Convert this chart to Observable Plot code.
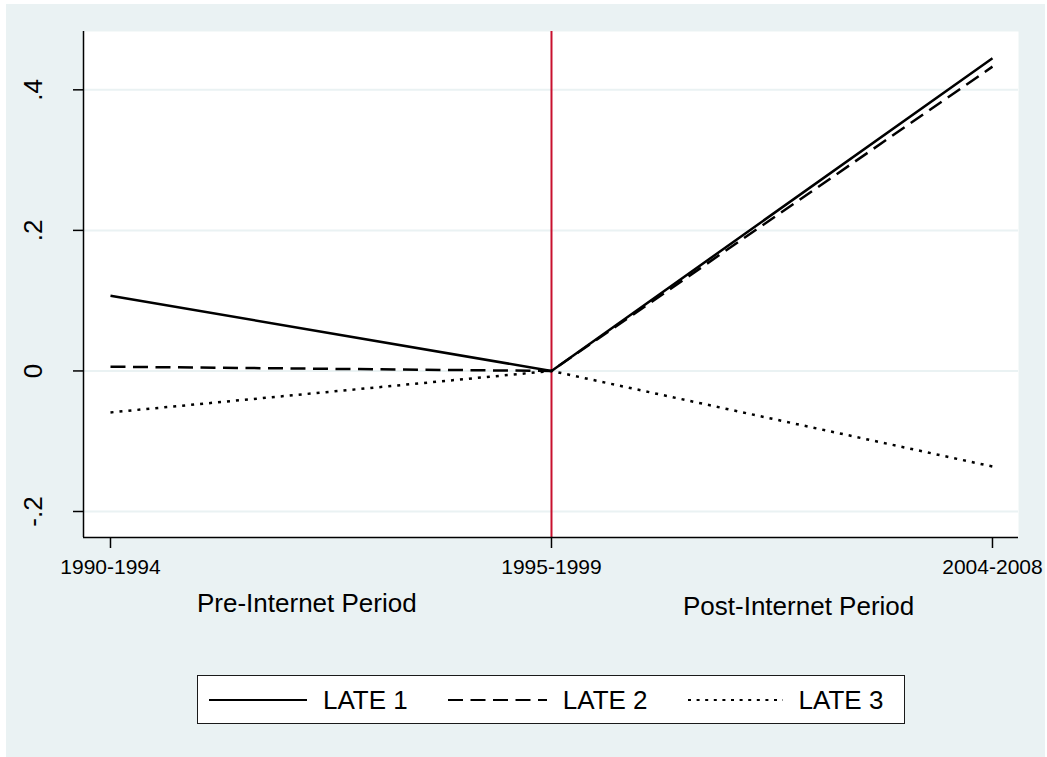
<!DOCTYPE html>
<html>
<head>
<meta charset="utf-8">
<script src="https://cdn.jsdelivr.net/npm/d3@7"></script>
<script src="https://cdn.jsdelivr.net/npm/@observablehq/plot@0.6"></script>
<style>
  html, body { margin: 0; padding: 0; background: #ffffff; overflow: hidden; }
  #page { position: relative; width: 1047px; height: 757px; overflow: hidden;
          font-family: "Liberation Sans", Arial, Helvetica, sans-serif; color: #000; }
  #bg { position: absolute; left: 6px; top: 4px; width: 1039px; height: 753px; background: #eaf2f3; }
  #chart { position: absolute; left: 0; top: 0; }
  .atitle { position: absolute; font-size: 26px; line-height: 26px; white-space: nowrap; color: #000; }
  #legend { position: absolute; left: 197px; top: 675px; width: 706px; height: 47px; box-sizing: content-box;
            background: #fff; border: 1px solid #1a1a1a; display: flex; align-items: center; }
  .item { display: flex; align-items: center; }
  .item svg { display: block; }
  .item span { font-size: 26px; line-height: 26px; margin-left: 16px; white-space: nowrap; }
</style>
</head>
<body>
<div id="page">
  <div id="bg"></div>
  <div id="chart"></div>
  <div class="atitle" id="t1" style="left:197px; top:590px;"></div>
  <div class="atitle" id="t2" style="left:683px; top:593px;"></div>
  <div id="legend"></div>
</div>
<script>
// ---- data ----
const periods = ["1990-1994", "1995-1999", "2004-2008"];
const late1 = [0.107, 0.0, 0.445];
const late2 = [0.006, 0.0, 0.433];
const late3 = [-0.059, 0.0, -0.136];
const seriesNames = ["LATE 1", "LATE 2", "LATE 3"];
const yTicks = [-0.2, 0, 0.2, 0.4];
const cutoffPeriod = "1995-1999";
const periodTitles = ["Pre-Internet Period", "Post-Internet Period"];

// ---- styles (kept apart from data) ----
const dashes = [null, "15,7.5", "3,6"];
const legendDashes = [null, "15,7.5", "3,5.6"];

const seriesValues = [late1, late2, late3];
const rows = [];
seriesNames.forEach((s, k) => {
  periods.forEach((p, i) => rows.push({series: s, idx: i, period: p, value: seriesValues[k][i]}));
});

const fmt = d => d === 0 ? "0" : String(d).replace("0.", ".");
const xDomain = [-0.0612, 2.059];
const yDomain = [-0.237, 0.483];
const cutIdx = periods.indexOf(cutoffPeriod);

const lineMarks = seriesNames.map((s, k) =>
  Plot.line(rows.filter(r => r.series === s), {
    x: "idx", y: "value", stroke: "#000", strokeWidth: 2.5,
    strokeDasharray: dashes[k] || undefined, strokeLinecap: "butt"
  })
);

const chart = Plot.plot({
  width: 1047,
  height: 590,
  marginLeft: 83,
  marginRight: 29,
  marginTop: 31,
  marginBottom: 53,
  style: {background: "transparent", fontFamily: '"Liberation Sans", Arial, Helvetica, sans-serif', color: "#000", overflow: "visible"},
  x: {domain: xDomain},
  y: {domain: yDomain},
  marks: [
    Plot.frame({fill: "#ffffff", stroke: "none"}),
    Plot.ruleY(yTicks, {stroke: "#eaf2f3", strokeWidth: 2}),
    Plot.ruleX([cutIdx], {stroke: "#c8102e", strokeWidth: 2}),
    ...lineMarks,
    Plot.ruleX([xDomain[0]], {stroke: "#000", strokeWidth: 1.5}),
    Plot.ruleY([yDomain[0]], {stroke: "#000", strokeWidth: 1.5}),
    Plot.axisY({ticks: yTicks, tickSize: 10, tickFormat: () => "", stroke: "#000", strokeWidth: 1.5, label: null}),
    Plot.text(yTicks, {
      y: d => d, frameAnchor: "left", text: fmt, rotate: -90, dx: -50,
      fontSize: 26, textAnchor: "middle", lineAnchor: "middle", fill: "#000"
    }),
    Plot.axisX({
      ticks: periods.map((p, i) => i), tickFormat: i => periods[i],
      tickSize: 11, tickPadding: 11, fontSize: 21, stroke: "#000", strokeWidth: 1.5,
      fill: "#000", label: null
    })
  ]
});
document.getElementById("chart").appendChild(chart);

document.getElementById("t1").textContent = periodTitles[0];
document.getElementById("t2").textContent = periodTitles[1];

// ---- legend ----
const legend = document.getElementById("legend");
const swW = [98, 99, 95];
const gaps = [11, 40, 40];
seriesNames.forEach((s, k) => {
  const item = document.createElement("div");
  item.className = "item";
  item.style.marginLeft = gaps[k] + "px";
  const svg = d3.create("svg").attr("width", swW[k]).attr("height", 20);
  svg.append("line").attr("x1", 0).attr("x2", swW[k]).attr("y1", 10).attr("y2", 10)
    .attr("stroke", "#000").attr("stroke-width", 2.2)
    .attr("stroke-dasharray", legendDashes[k]);
  item.appendChild(svg.node());
  const span = document.createElement("span");
  span.textContent = s;
  item.appendChild(span);
  legend.appendChild(item);
});
</script>
</body>
</html>
